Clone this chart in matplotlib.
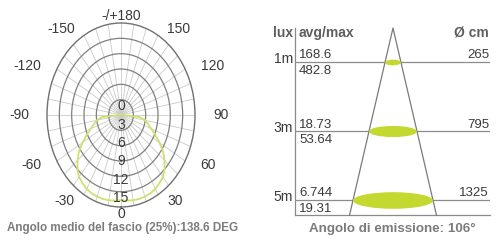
import matplotlib
matplotlib.use("Agg")
import matplotlib.pyplot as plt
import numpy as np
from matplotlib import font_manager
from matplotlib.patches import Ellipse

# --- polar intensity curve (symmetric), angle from nadir in degrees ---
ANGLES = [0, 5, 10, 15, 20, 25, 30, 35, 40, 45, 50, 55, 60, 65, 70, 75, 80, 85, 90]
INTENSITY = [16.7, 16.8, 16.95, 17.0, 17.0, 16.9, 16.7, 16.3, 15.85, 15.0,
             13.8, 12.5, 10.8, 9.2, 7.8, 6.8, 6.0, 4.5, 0.0]
RING_VALUES = [3, 6, 9, 12, 15]
RING_LABELS = [0, 3, 6, 9, 12, 15]
RMAX = 18
ANGLE_TICKS = [0, 30, 60, 90, 120, 150, 180, -150, -120, -90, -60, -30]
ANGLE_LABELS = ["0", "30", "60", "90", "120", "150", "-/+180",
                "-150", "-120", "-90", "-60", "-30"]
MEAN_BEAM = 138.6

# --- cone table ---
DISTANCES = [1, 3, 5]
LUX_AVG = ["168.6", "18.73", "6.744"]
LUX_MAX = ["482.8", "53.64", "19.31"]
DIAMETERS = [265, 795, 1325]
BEAM_ANGLE = 106

W, H = 499, 243
DPI = 100
PT = 72 / DPI  # points per pixel

names = {f.name for f in font_manager.fontManager.ttflist}
BASE = "Liberation Sans" if "Liberation Sans" in names else "DejaVu Sans"
plt.rcParams["font.family"] = BASE

TXT = "#3a3a3a"
CAP = "#7b7b7b"
GREEN = "#c5d830"
CURVE = "#d2df6e"

fig = plt.figure(figsize=(W / DPI, H / DPI), dpi=DPI)
fig.patch.set_facecolor("white")

# ---------------- polar diagram ----------------
ax = fig.add_axes([47 / W, (H - 207) / H, 148 / W, 184 / H], projection="polar")
ax.set_aspect("auto")
ax.set_theta_zero_location("S")
ax.set_theta_direction(1)
ax.set_rlim(0, RMAX)
ax.set_rticks(RING_VALUES)
ax.set_yticklabels([])
ax.set_thetagrids(range(0, 360, 10), labels=[])
ax.yaxis.grid(True, color="#808080", linewidth=0.9)
ax.xaxis.grid(True, color="#cacaca", linewidth=0.6)
ax.spines["polar"].set_color("#707070")
ax.spines["polar"].set_linewidth(1.0)
ax.tick_params(length=0)

th = np.radians(np.concatenate([-np.array(ANGLES[::-1]), ANGLES]))
rr = np.concatenate([INTENSITY[::-1], INTENSITY])
ax.plot(th, rr, color=CURVE, linewidth=1.3, zorder=5)

for a, lab in zip(ANGLE_TICKS, ANGLE_LABELS):
    s, c = np.sin(np.radians(a)), np.cos(np.radians(a))
    ha = "left" if s > 0.05 else ("right" if s < -0.05 else "center")
    ax.annotate(lab, (np.radians(a), RMAX), xytext=(18 * s * PT, -7 * c * PT),
                textcoords="offset points", ha=ha, va="center",
                fontsize=10, color=TXT, annotation_clip=False)

for k in RING_LABELS:
    ax.text(0.5, 0.5 - (-8.5 + 6.1 * k) / 184, str(k), transform=ax.transAxes,
            ha="center", va="center", fontsize=10, color=TXT, zorder=6)

fig.text(123 / W, 1 - 228 / H,
         f"Angolo medio del fascio (25%):{MEAN_BEAM} DEG",
         ha="center", va="center", fontsize=8.4, fontweight="bold", color=CAP)

# ---------------- cone diagram ----------------
PX_PER_M = 34.5
CM_PER_PX = 1325 / 80
ax2 = fig.add_axes([295 / W, 28 / H, 195 / W, 187 / H])
ax2.set_xlim(-98 * CM_PER_PX, 97 * CM_PER_PX)
ax2.set_ylim(187 / PX_PER_M, 0)
ax2.set_xticks([])
ax2.set_yticks([])
for sp in ["top", "right"]:
    ax2.spines[sp].set_visible(False)
for sp in ["left", "bottom"]:
    ax2.spines[sp].set_color("#8a8a8a")
    ax2.spines[sp].set_linewidth(0.9)

ymax = ax2.get_ylim()[0]
half = np.tan(np.radians(BEAM_ANGLE / 2)) * 100
ax2.plot([-half * ymax, 0, half * ymax], [ymax, 0, ymax],
         color="#7a7a7a", linewidth=0.9, clip_on=False, zorder=3)

trans = ax2.get_yaxis_transform()
for d, avg, mx, dia in zip(DISTANCES, LUX_AVG, LUX_MAX, DIAMETERS):
    ax2.axhline(d, color="#8c8c8c", linewidth=0.9, zorder=2)
    h_px = 3 + 0.17 * (dia / CM_PER_PX)
    ax2.add_patch(Ellipse((0, d), width=dia, height=h_px / PX_PER_M,
                          facecolor=GREEN, edgecolor="none", zorder=4))
    ax2.annotate(f"{d}m", (0, d), xycoords=trans, xytext=(-2 * PT, 3.5 * PT),
                 textcoords="offset points", ha="right", va="center",
                 fontsize=10, color=TXT, annotation_clip=False)
    ax2.annotate(avg, (0, d), xycoords=trans, xytext=(4 * PT, 7 * PT),
                 textcoords="offset points", ha="left", va="center",
                 fontsize=9.5, color=TXT, annotation_clip=False)
    ax2.annotate(mx, (0, d), xycoords=trans, xytext=(4 * PT, -8.5 * PT),
                 textcoords="offset points", ha="left", va="center",
                 fontsize=9.5, color=TXT, annotation_clip=False)
    ax2.annotate(str(dia), (1, d), xycoords=trans, xytext=(-1 * PT, 7 * PT),
                 textcoords="offset points", ha="right", va="center",
                 fontsize=9.5, color=TXT, annotation_clip=False)

hy = (215 - 33) / 187
ax2.text(-2 / 195, hy, "lux", transform=ax2.transAxes, ha="right", va="center",
         fontsize=10, fontweight="bold", color="#5e5e5e", clip_on=False)
ax2.text(4 / 195, hy, "avg/max", transform=ax2.transAxes, ha="left", va="center",
         fontsize=10, fontweight="bold", color="#5e5e5e", clip_on=False)
ax2.text(194 / 195, hy, "Ø cm", transform=ax2.transAxes, ha="right", va="center",
         fontsize=10, fontweight="bold", color="#5e5e5e", clip_on=False)

fig.text(392.5 / W, 1 - 229 / H, f"Angolo di emissione: {BEAM_ANGLE}°",
         ha="center", va="center", fontsize=9.6, fontweight="bold", color=CAP)

fig.savefig("out.png", dpi=DPI, facecolor="white")
